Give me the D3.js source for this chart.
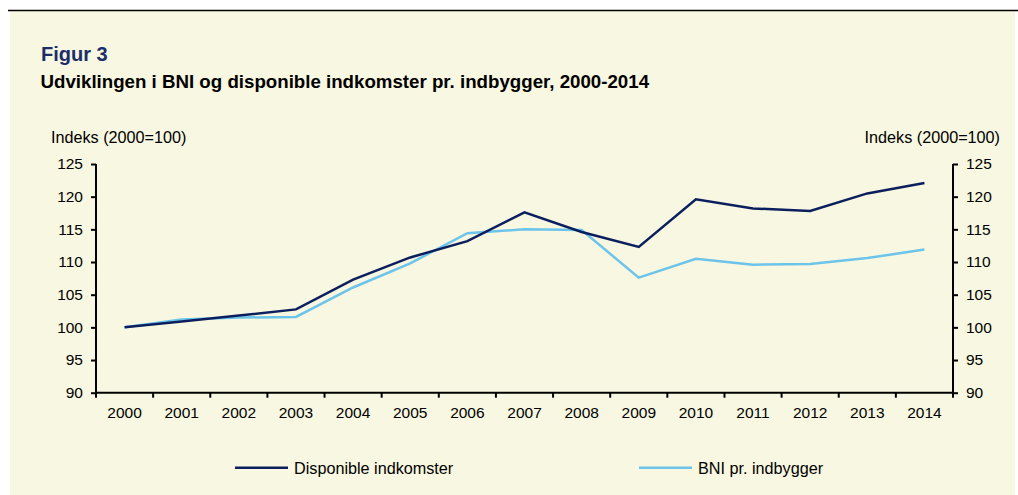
<!DOCTYPE html>
<html>
<head>
<meta charset="utf-8">
<script src="https://cdn.jsdelivr.net/npm/d3@7"></script>
<style>
  body { margin: 0; background: #fff; }
  svg { display: block; font-family: "Liberation Sans", Arial, sans-serif; }
</style>
</head>
<body>
<div id="chart"></div>
<script>
var svgWidth = 1018;
var svgHeight = 495;

// data
var years = ["2000", "2001", "2002", "2003", "2004", "2005", "2006", "2007",
  "2008", "2009", "2010", "2011", "2012", "2013", "2014"];
var disponible = [100, 100.9, 101.8, 102.75, 107.3, 110.7, 113.2, 117.6,
  114.6, 112.3, 119.6, 118.2, 117.8, 120.5, 122.1];
var bni = [100, 101.2, 101.5, 101.6, 106.1, 109.8, 114.4, 115.0,
  114.9, 107.6, 110.5, 109.6, 109.7, 110.6, 111.9];
var yTicks = [90, 95, 100, 105, 110, 115, 120, 125];

var margin = { top: 164, right: 65, bottom: 102.3, left: 96 };
var width = svgWidth - margin.left - margin.right;
var height = svgHeight - margin.top - margin.bottom;

var svg = d3.select("#chart")
  .append("svg")
  .attr("width", svgWidth)
  .attr("height", svgHeight);

// background panel + top rule
svg.append("rect")
  .attr("x", 10)
  .attr("y", 10)
  .attr("width", 1005)
  .attr("height", svgHeight - 10)
  .attr("fill", "#f8f7e1");
svg.append("line")
  .attr("x1", 8).attr("x2", svgWidth)
  .attr("y1", 10.5).attr("y2", 10.5)
  .attr("stroke", "#000")
  .attr("stroke-width", 1.5);

svg.append("text")
  .attr("x", 41).attr("y", 60.5)
  .attr("font-size", "20px")
  .attr("font-weight", "bold")
  .attr("fill", "#1b2d6b")
  .text("Figur 3");
svg.append("text")
  .attr("x", 40.5).attr("y", 88.3)
  .attr("font-size", "18.7px")
  .attr("font-weight", "bold")
  .attr("fill", "#000")
  .text("Udviklingen i BNI og disponible indkomster pr. indbygger, 2000-2014");

var chartGroup = svg.append("g")
  .attr("transform", `translate(${margin.left}, ${margin.top})`);

var xScale = d3.scaleBand()
  .domain(years)
  .range([0, width]);

var yScale = d3.scaleLinear()
  .domain([90, 125])
  .range([height, 0]);

// left axis
var leftAxis = chartGroup.append("g")
  .call(d3.axisLeft(yScale).tickValues(yTicks).tickSize(5).tickPadding(8));
// right axis
var rightAxis = chartGroup.append("g")
  .attr("transform", `translate(${width}, 0)`)
  .call(d3.axisRight(yScale).tickValues(yTicks).tickSize(5).tickPadding(8));
// bottom axis: ticks between categories
var bottomAxis = chartGroup.append("g")
  .attr("transform", `translate(0, ${height})`)
  .call(d3.axisBottom(xScale).tickSize(0).tickPadding(14));

bottomAxis.selectAll(".xb")
  .data(d3.range(years.length + 1))
  .enter()
  .append("line")
  .attr("x1", i => i * xScale.bandwidth())
  .attr("x2", i => i * xScale.bandwidth())
  .attr("y1", 0)
  .attr("y2", 5)
  .attr("stroke", "#000")
  .attr("stroke-width", 2);

[leftAxis, rightAxis, bottomAxis].forEach(function(ax) {
  ax.select(".domain").attr("stroke-width", 2).attr("stroke", "#000");
  ax.selectAll(".tick line").attr("stroke-width", 2);
  ax.selectAll("text")
    .attr("font-size", "15.5px")
    .attr("font-family", "Liberation Sans, Arial, sans-serif")
    .attr("fill", "#000");
});
leftAxis.select(".domain").attr("d", `M0,0V${height}`);
rightAxis.select(".domain").attr("d", `M0,0V${height}`);
bottomAxis.select(".domain").attr("d", `M0,0H${width}`);

// axis titles
svg.append("text")
  .attr("x", 51).attr("y", 143.3)
  .attr("font-size", "16.2px")
  .text("Indeks (2000=100)");
svg.append("text")
  .attr("x", 1000).attr("y", 143.3)
  .attr("font-size", "16.2px")
  .attr("text-anchor", "end")
  .text("Indeks (2000=100)");

var line = d3.line()
  .x((d, i) => xScale(years[i]) + xScale.bandwidth() / 2)
  .y(d => yScale(d));

chartGroup.append("path")
  .datum(bni)
  .attr("d", line)
  .attr("fill", "none")
  .attr("stroke", "#6cc4ea")
  .attr("stroke-width", 2.5);

chartGroup.append("path")
  .datum(disponible)
  .attr("d", line)
  .attr("fill", "none")
  .attr("stroke", "#0b1f5e")
  .attr("stroke-width", 2.5);

// legend
var legendItems = [
  { name: "Disponible indkomster", color: "#0b1f5e", x: 235 },
  { name: "BNI pr. indbygger", color: "#6cc4ea", x: 639 }
];
var legend = svg.append("g").selectAll("g")
  .data(legendItems)
  .enter()
  .append("g")
  .attr("transform", d => `translate(${d.x}, 467.7)`);
legend.append("line")
  .attr("x1", 0).attr("x2", 53)
  .attr("y1", 0).attr("y2", 0)
  .attr("stroke", d => d.color)
  .attr("stroke-width", 2.5);
legend.append("text")
  .attr("x", 59)
  .attr("y", 6)
  .attr("font-size", "16.2px")
  .text(d => d.name);
</script>
</body>
</html>
